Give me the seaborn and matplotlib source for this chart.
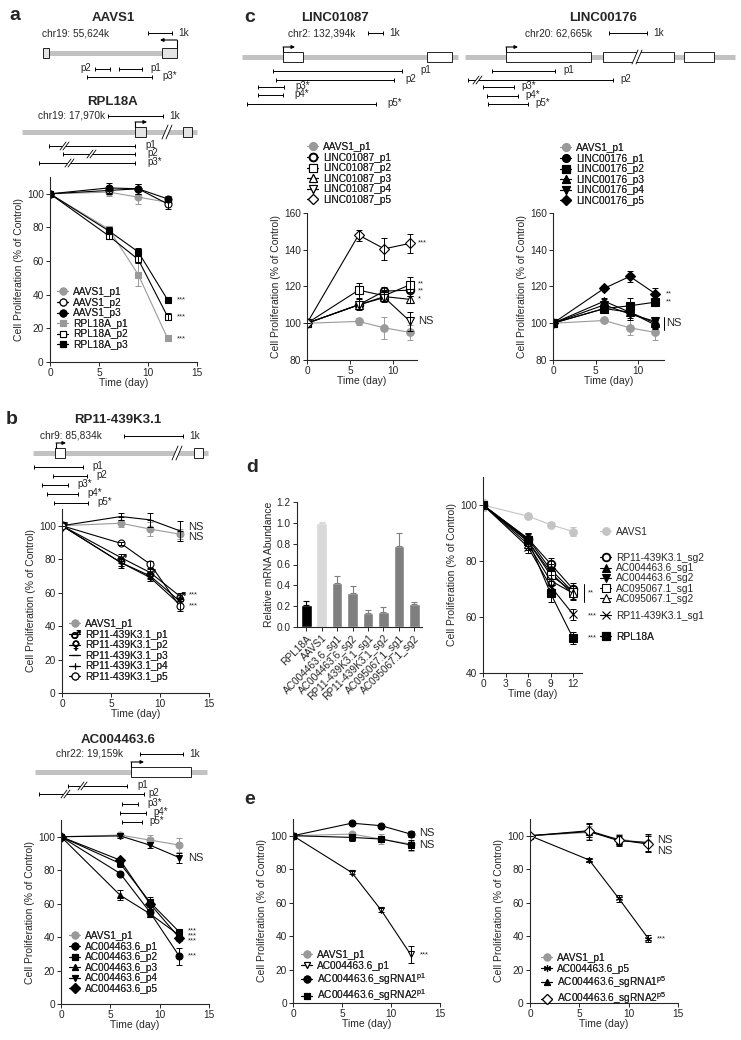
import matplotlib
matplotlib.use("Agg")
import matplotlib.pyplot as plt
from matplotlib.patches import Rectangle, Polygon
from matplotlib.textpath import TextPath
from matplotlib.font_manager import FontProperties
from matplotlib.path import Path
import seaborn as sns
import pandas as pd

# ---------------------------------------------------------
# DATA
# ---------------------------------------------------------
DAYS = [0, 6, 9, 12]

# a: AAVS1 / RPL18A
A_LABELS = ["AAVS1_p1", "AAVS1_p2", "AAVS1_p3", "RPL18A_p1", "RPL18A_p2", "RPL18A_p3"]
A_VALUES = [[100, 101, 98, 95], [100, 102, 103, 94], [100, 103.5, 103, 97],
            [100, 79, 52, 14], [100, 75, 61, 27], [100, 78, 65.5, 37]]
A_ERRORS = [[0, 2, 4, 2], [0, 2, 3, 3], [0, 3, 3, 2], [0, 2, 7, 1], [0, 2, 2, 2], [0, 2, 2, 1]]
A_SIG = [(37, "***"), (27, "***"), (14, "***")]

# b: RP11-439K3.1
B_LABELS = ["AAVS1_p1", "RP11-439K3.1_p1", "RP11-439K3.1_p2", "RP11-439K3.1_p3",
            "RP11-439K3.1_p4", "RP11-439K3.1_p5"]
B_VALUES = [[100, 101.5, 98, 95], [100, 81, 72, 58], [100, 78, 70, 55],
            [100, 105.5, 103.5, 97], [100, 78, 69, 53], [100, 89.5, 77, 52]]
B_ERRORS = [[0, 2, 4, 3], [0, 2, 2, 2], [0, 2, 2, 2], [0, 2, 4, 6], [0, 3, 2, 2], [0, 1, 2, 3]]
B_SIG = [(99, "NS"), (93, "NS"), (58.5, "***"), (52, "***")]

# b (lower): AC004463.6
C6_LABELS = ["AAVS1_p1", "AC004463.6_p1", "AC004463.6_p2", "AC004463.6_p3",
             "AC004463.6_p4", "AC004463.6_p5"]
C6_VALUES = [[100, 101, 98, 95], [100, 78, 55, 28.5], [100, 84, 61, 43],
             [100, 65, 54, 41], [100, 100.5, 95, 87.5], [100, 86, 60, 39.5]]
C6_ERRORS = [[0, 1, 3, 4], [0, 1, 2, 5], [0, 2, 3, 2], [0, 3, 2, 2], [0, 1, 2, 3], [0, 1, 3, 2]]
C6_SIG = [(44, "***"), (41, "***"), (38, "***"), (28.5, "***"), (87.5, "NS")]

# c: LINC01087
L1_LABELS = ["AAVS1_p1", "LINC01087_p1", "LINC01087_p2", "LINC01087_p3",
             "LINC01087_p4", "LINC01087_p5"]
L1_VALUES = [[100, 101, 97.5, 95], [100, 110, 117.5, 118], [100, 118, 115, 121],
             [100, 110, 114.5, 113], [100, 110, 114, 101], [100, 148, 140.5, 143.5]]
L1_ERRORS = [[0, 2, 6, 4], [0, 2, 2, 3], [0, 4, 3, 4], [0, 3, 3, 2], [0, 2, 2, 5], [0, 3, 6, 5]]
L1_SIG = [(143.5, "***"), (121.5, "**"), (117.5, "**"), (113, "*"), (101, "NS")]

# c: LINC00176
L2_LABELS = ["AAVS1_p1", "LINC00176_p1", "LINC00176_p2", "LINC00176_p3",
             "LINC00176_p4", "LINC00176_p5"]
L2_VALUES = [[100, 101.5, 97.5, 95], [100, 108, 106, 99], [100, 108, 109.5, 111.5],
             [100, 112, 106, 100], [100, 110, 105, 101], [100, 119, 125.5, 116]]
L2_ERRORS = [[0, 1, 4, 4], [0, 2, 2, 2], [0, 2, 4, 2], [0, 2, 3, 2], [0, 3, 3, 2], [0, 1, 3, 3]]
L2_SIG = [(116, "**"), (111.5, "**"), (100, "NS")]

# d: relative mRNA abundance
D_BAR_LABELS = ["RPL18A", "AAVS1", "AC004463.6_sg1", "AC004463.6_sg2", "RP11-439K3.1_sg1",
                "RP11-439K3.1_sg2", "AC095067.1_sg1", "AC095067.1_sg2"]
D_BAR_VALUES = [0.21, 1.0, 0.42, 0.33, 0.13, 0.145, 0.78, 0.22]
D_BAR_ERRORS = [0.04, 0.005, 0.07, 0.065, 0.03, 0.045, 0.12, 0.02]

# d: proliferation after knock-down
D_LABELS = ["AAVS1", "RP11-439K3.1_sg2", "AC004463.6_sg1", "AC004463.6_sg2",
            "AC095067.1_sg1", "AC095067.1_sg2", "RP11-439K3.1_sg1", "RPL18A"]
D_VALUES = [[100, 96, 93, 90.5], [100, 88, 79, 70], [100, 88, 77, 69], [100, 87, 76, 68],
            [100, 87, 75, 69], [100, 86, 73, 68.5], [100, 85, 71, 61], [100, 87.5, 68.5, 52.5]]
D_ERRORS = [[2, 1, 1, 1.5], [0, 2, 2, 2], [0, 2, 2, 2], [0, 2, 2, 2],
            [0, 2, 2, 2], [0, 2, 2, 2], [0, 2, 2, 2], [0, 2, 3, 2]]

# e: rescue with alternative sgRNAs
E1_LABELS = ["AAVS1_p1", "AC004463.6_p1", r"AC004463.6_sgRNA1$^{\mathrm{p1}}$",
             r"AC004463.6_sgRNA2$^{\mathrm{p1}}$"]
E1_VALUES = [[100, 101, 98, 95], [100, 78, 55.5, 29], [100, 107.5, 106, 101], [100, 99, 98, 94.5]]
E1_ERRORS = [[0, 1, 3, 4], [0, 1, 1, 5], [0, 1, 1, 2], [0, 2, 2, 3]]
E1_SIG = [(101.5, "NS"), (94.5, "NS"), (29, "***")]

E2_LABELS = ["AAVS1_p1", "AC004463.6_p5", r"AC004463.6_sgRNA1$^{\mathrm{p5}}$",
             r"AC004463.6_sgRNA2$^{\mathrm{p5}}$"]
E2_VALUES = [[100, 102, 98, 95.5], [100, 85.5, 62.5, 38.5], [100, 102.5, 97, 96], [100, 103, 97.5, 95]]
E2_ERRORS = [[0, 4, 3, 5], [0, 1, 2, 2], [0, 5, 3, 5], [0, 4, 3, 5]]
E2_SIG = [(97.5, "NS"), (91, "NS"), (38.5, "***")]

# ---------------------------------------------------------
# STYLE
# ---------------------------------------------------------
sns.set_theme(style="ticks")
plt.rcParams["font.family"] = ["Liberation Sans", "DejaVu Sans"]
plt.rcParams["mathtext.fontset"] = "custom"
plt.rcParams["mathtext.rm"] = "Liberation Sans"
FS = 7.3       # tick / legend text
FL = 7.5       # axis labels
GREY = "#9a9a9a"
LIGHT = "#c4c4c4"
K = "black"
W_ = "white"


def glyph_marker(ch):
    # marker built from a DejaVu glyph, centred on the data point
    p = TextPath((0, 0), ch, size=10, prop=FontProperties(family="DejaVu Sans"))
    v = p.vertices.copy()
    v[:, 0] -= (v[:, 0].min() + v[:, 0].max()) / 2
    v[:, 1] -= (v[:, 1].min() + v[:, 1].max()) / 2
    return Path(v, p.codes)


MALE = glyph_marker("\u2642")
FEMALE = glyph_marker("\u2640")

# (marker, face, line/edge colour)
A_STY = [("o", GREY, GREY), ("o", W_, K), ("o", K, K), ("s", GREY, GREY), ("s", W_, K), ("s", K, K)]
B_STY = [("o", GREY, GREY), (MALE, K, K), (FEMALE, K, K), ("_", K, K), ("+", K, K), ("o", W_, K)]
C6_STY = [("o", GREY, GREY), ("o", K, K), ("s", K, K), ("^", K, K), ("v", K, K), ("D", K, K)]
L1_STY = [("o", GREY, GREY), ("o", W_, K), ("s", W_, K), ("^", W_, K), ("v", W_, K), ("D", W_, K)]
L2_STY = [("o", GREY, GREY), ("o", K, K), ("s", K, K), ("^", K, K), ("v", K, K), ("D", K, K)]
D_STY = [("o", LIGHT, LIGHT), ("o", W_, K), ("^", K, K), ("v", K, K), ("s", W_, K), ("^", W_, K),
         ("x", K, K), ("s", K, K)]
E1_STY = [("o", GREY, GREY), ("v", W_, K), ("o", K, K), ("s", K, K)]
E2_STY = [("o", GREY, GREY), ((6, 2, 0), K, K), ("^", K, K), ("D", W_, K)]

WPX, HPX = 741, 1040
fig = plt.figure(figsize=(WPX / 100, HPX / 100), dpi=100)

# overlay axes in pixel coordinates for the gene schematics and panel letters
ov = fig.add_axes([0, 0, 1, 1])
ov.set_xlim(0, WPX)
ov.set_ylim(HPX, 0)
ov.axis("off")
ov.patch.set_alpha(0)


def place(x0, y0, x1, y1):
    ax = fig.add_axes([x0 / WPX, 1 - y1 / HPX, (x1 - x0) / WPX, (y1 - y0) / HPX])
    ax.patch.set_alpha(0)
    return ax


def style_axes(ax):
    sns.despine(ax=ax)
    for s in ("left", "bottom"):
        ax.spines[s].set_linewidth(0.8)
    ax.tick_params(labelsize=FS, length=3, width=0.7, pad=1.5)


def draw_lines(ax, labels, values, errors, styles, ms=5):
    for lab, v, e, (mk, fc, col) in zip(labels, values, errors, styles):
        df = pd.DataFrame({"day": DAYS, "val": v})
        mew = 1.3 if (fc == W_ and isinstance(mk, str) and mk == "o" and ms > 5.2) else 0.8
        if isinstance(mk, Path):
            mew = 0.3
        sns.lineplot(data=df, x="day", y="val", ax=ax, color=col, marker=mk,
                     markerfacecolor=fc, markeredgecolor=col, markersize=ms + (2 if isinstance(mk, Path) else 0),
                     markeredgewidth=mew, lw=0.8, label=lab, legend=False, errorbar=None)
        ax.errorbar(DAYS, v, yerr=e, fmt="none", ecolor=col, elinewidth=0.7,
                    capsize=2.2, capthick=0.7)


def legend_at(ax, handles, labels, x, y, spacing=0.06):
    leg = ax.legend(handles, labels, loc="upper left", bbox_to_anchor=(x / WPX, 1 - y / HPX),
                    bbox_transform=fig.transFigure, frameon=False, fontsize=FS,
                    borderpad=0, borderaxespad=0, handlelength=1.1, handletextpad=0.5,
                    labelspacing=spacing)
    ax.add_artist(leg)
    return leg


def prolif_panel(rect, xlim, ylim, yticks, labels, values, errors, styles, leg_xy, sig,
                 xticks=(0, 5, 10, 15), sig_x=12.9, ms=5):
    ax = place(*rect)
    draw_lines(ax, labels, values, errors, styles, ms=ms)
    ax.set_xlim(*xlim)
    ax.set_ylim(*ylim)
    ax.set_xticks(list(xticks))
    ax.set_yticks(yticks)
    ax.set_xlabel("Time (day)", fontsize=FL, labelpad=0)
    ax.set_ylabel("Cell Proliferation (% of Control)", fontsize=FL, labelpad=2)
    style_axes(ax)
    h, l = ax.get_legend_handles_labels()
    legend_at(ax, h, l, *leg_xy)
    for yv, txt in sig:
        ax.text(sig_x, yv, txt, fontsize=8 if txt == "NS" else 5.5, va="center", ha="left",
                clip_on=False)
    return ax


# ---------------------------------------------------------
# LINE PANELS
# ---------------------------------------------------------
prolif_panel((50, 177, 197, 362), (0, 15), (0, 110), range(0, 101, 20),
             A_LABELS, A_VALUES, A_ERRORS, A_STY, (57, 287), A_SIG)
prolif_panel((62, 509, 209, 693), (0, 15), (0, 110), range(0, 101, 20),
             B_LABELS, B_VALUES, B_ERRORS, B_STY, (69, 619), B_SIG)
prolif_panel((61, 820, 209, 1004), (0, 15), (0, 110), range(0, 101, 20),
             C6_LABELS, C6_VALUES, C6_ERRORS, C6_STY, (69, 931), C6_SIG)
prolif_panel((307, 213, 417, 360), (0, 12.8), (80, 160), range(80, 161, 20),
             L1_LABELS, L1_VALUES, L1_ERRORS, L1_STY, (307, 142), L1_SIG, xticks=(0, 5, 10), ms=5.5)
ax_l2 = prolif_panel((553, 213, 664, 360), (0, 13), (80, 160), range(80, 161, 20),
                     L2_LABELS, L2_VALUES, L2_ERRORS, L2_STY, (560, 143), L2_SIG,
                     xticks=(0, 5, 10), ms=5.5, sig_x=13.2)
ax_l2.plot([12.95, 12.95], [96.5, 103.5], color=K, lw=0.7, clip_on=False)
prolif_panel((293, 819, 440, 1003), (0, 15), (0, 110), range(0, 101, 20),
             E1_LABELS, E1_VALUES, E1_ERRORS, E1_STY, (301, 950), E1_SIG)
prolif_panel((530, 819, 678, 1003), (0, 15), (0, 110), range(0, 101, 20),
             E2_LABELS, E2_VALUES, E2_ERRORS, E2_STY, (541, 953), E2_SIG)

# d: proliferation with grouped legend on the right
axd = place(483, 477, 582, 673)
draw_lines(axd, D_LABELS, D_VALUES, D_ERRORS, D_STY, ms=5.5)
axd.set_xlim(0, 13.2)
axd.set_ylim(40, 110)
axd.set_xticks([0, 3, 6, 9, 12])
axd.set_yticks([40, 60, 80, 100])
axd.set_xlabel("Time (day)", fontsize=FL, labelpad=0)
axd.set_ylabel("Cell Proliferation (% of Control)", fontsize=FL, labelpad=2)
style_axes(axd)
h, l = axd.get_legend_handles_labels()
legend_at(axd, h[:1], l[:1], 600, 527)
legend_at(axd, h[1:6], l[1:6], 600, 553, spacing=0.02)
legend_at(axd, h[6:7], l[6:7], 600, 611)
legend_at(axd, h[7:], l[7:], 600, 632)
axd.plot([13.5, 13.5], [65.4, 71.8], color=K, lw=0.7, clip_on=False)
axd.text(14.0, 68.5, "**", fontsize=5.5, va="center", clip_on=False)
axd.text(14.0, 60.5, "***", fontsize=5.5, va="center", clip_on=False)
axd.text(14.0, 52.5, "***", fontsize=5.5, va="center", clip_on=False)

# d: bar chart
axb = place(297, 502, 422, 627)
bar_df = pd.DataFrame({"sample": D_BAR_LABELS, "value": D_BAR_VALUES})
bar_cols = ["#000000", "#d9d9d9"] + ["#7f7f7f"] * 6
sns.barplot(data=bar_df, x="sample", y="value", hue="sample", palette=bar_cols,
            legend=False, width=0.68, ax=axb, saturation=1)
for i, (v, e, c) in enumerate(zip(D_BAR_VALUES, D_BAR_ERRORS, bar_cols)):
    axb.errorbar([i], [v], yerr=[[0], [e]], fmt="none", ecolor=c,
                 elinewidth=0.8, capsize=2, capthick=0.8)
axb.set_xlim(-0.6, 7.5)
axb.set_ylim(0, 1.2)
axb.set_yticks([0, 0.2, 0.4, 0.6, 0.8, 1.0, 1.2])
axb.set_yticklabels([f"{v:.1f}" for v in axb.get_yticks()])
axb.set_xlabel("")
axb.set_ylabel("Relative mRNA Abundance", fontsize=FL, labelpad=2)
style_axes(axb)
axb.set_xticks(range(len(D_BAR_LABELS)))
axb.set_xticklabels(D_BAR_LABELS, rotation=45, ha="right", rotation_mode="anchor", fontsize=FS)

# ---------------------------------------------------------
# GENE SCHEMATICS (pixel layout)
# ---------------------------------------------------------
GENES = [
    dict(name="AAVS1", title=(113, 18), chr_text="chr19: 55,624k", chr=(42, 33), scale=(148, 172, 33),
         line=(45, 177, 53), exons=[(43, 49), (162, 177)], fc="#e4e4e4", breaks=[],
         tss=(177, 40, 160),
         primers=[("p2", 95, 110, 69, [], 80), ("p1", 119, 142, 69, [], 150),
                  ("p3*", 87, 152, 77, [], 162)]),
    dict(name="RPL18A", title=(113, 102), chr_text="chr19: 17,970k", chr=(38, 116), scale=(108, 163, 116),
         line=(22, 197, 132), exons=[(135, 146), (183, 192)], fc="#e4e4e4", breaks=[165],
         tss=(135, 122, 147),
         primers=[("p1", 49, 135, 146, [63], 145), ("p2", 63, 135, 154, [90], 147),
                  ("p3*", 39, 135, 163, [68], 147)]),
    dict(name="RP11-439K3.1", title=(118, 420), chr_text="chr9: 85,834k", chr=(40, 436), scale=(124, 183, 436),
         line=(33, 208, 453), exons=[(55, 65), (194, 203)], fc="white", breaks=[175],
         tss=(56, 443, 66),
         primers=[("p1", 34, 83, 467, [], 92), ("p2", 53, 87, 476, [], 96), ("p3*", 42, 68, 485, [], 77),
                  ("p4*", 47, 78, 494, [], 87), ("p5*", 54, 88, 503, [], 97)]),
    dict(name="AC004463.6", title=(118, 740), chr_text="chr22: 19,159k", chr=(56, 754), scale=(140, 183, 754),
         line=(35, 207, 772), exons=[(131, 191)], fc="white", breaks=[],
         tss=(131, 762, 144),
         primers=[("p1", 68, 127, 786, [81], 137), ("p2", 39, 144, 794, [64], 148),
                  ("p3*", 122, 138, 804, [], 147), ("p4*", 120, 146, 813, [], 153),
                  ("p5*", 122, 142, 822, [], 149)]),
    dict(name="LINC01087", title=(335, 18), chr_text="chr2: 132,394k", chr=(288, 33), scale=(368, 383, 33),
         line=(242, 458, 57), exons=[(283, 303), (427, 452)], fc="white", breaks=[],
         tss=(283, 47, 295),
         primers=[("p1", 273, 402, 71, [], 420), ("p2", 276, 394, 80, [], 405),
                  ("p3*", 258, 284, 87, [], 295), ("p4*", 258, 283, 95, [], 294),
                  ("p5*", 247, 376, 104, [], 387)]),
    dict(name="LINC00176", title=(603, 18), chr_text="chr20: 62,665k", chr=(525, 33), scale=(609, 647, 33),
         line=(465, 735, 57), exons=[(506, 591), (603, 674), (684, 714)], fc="white", breaks=[635],
         tss=(506, 47, 518),
         primers=[("p1", 492, 555, 71, [], 563), ("p2", 468, 613, 80, [476], 620),
                  ("p3*", 483, 514, 87, [], 521), ("p4*", 487, 518, 96, [], 525),
                  ("p5*", 488, 528, 104, [], 535)]),
]


def slash_break(x, y, h, gap=4):
    ov.add_patch(Polygon([(x - 3, y + h), (x - 3 + gap, y + h), (x + 3 + gap, y - h), (x + 3, y - h)],
                         closed=True, fc="white", ec="none", zorder=4))
    for dx in (0, gap):
        ov.plot([x - 3 + dx, x + 3 + dx], [y + h, y - h], color=K, lw=0.6, zorder=5)


for g in GENES:
    ov.text(g["title"][0], g["title"][1], g["name"], ha="center", va="center",
            fontsize=9.5, fontweight="bold")
    ov.text(g["chr"][0], g["chr"][1], g["chr_text"], ha="left", va="center", fontsize=7.3)
    sx0, sx1, sy = g["scale"]
    ov.plot([sx0, sx1], [sy, sy], color=K, lw=0.7, marker="|", ms=3.5, mew=0.7)
    ov.text(sx1 + 6, sy, "1k", ha="left", va="center", fontsize=7.3)
    lx0, lx1, ly = g["line"]
    ov.plot([lx0, lx1], [ly, ly], color="#c2c2c2", lw=3.6, solid_capstyle="butt", zorder=1)
    for ex0, ex1 in g["exons"]:
        ov.add_patch(Rectangle((ex0, ly - 5), ex1 - ex0, 10, fc=g["fc"], ec=K, lw=0.6, zorder=2))
    for bx in g["breaks"]:
        slash_break(bx, ly, 7)
    tx, ty, tend = g["tss"]
    ov.plot([tx, tx], [ly - 5, ty], color=K, lw=0.8, zorder=3)
    ov.annotate("", xy=(tend, ty), xytext=(tx, ty),
                arrowprops=dict(arrowstyle="-|>", lw=0.8, color=K, mutation_scale=5,
                                shrinkA=0, shrinkB=0))
    for lab, p0, p1, py, pbreaks, labx in g["primers"]:
        ov.plot([p0, p1], [py, py], color=K, lw=0.7, marker="|", ms=3, mew=0.7)
        for bx in pbreaks:
            slash_break(bx, py, 4, gap=3)
        ov.text(labx, py - 1, lab, ha="left", va="center", fontsize=7)

# panel letters
for letter, (x, y) in zip("abcde", [(15, 16), (12, 420), (250, 17), (252, 468), (250, 800)]):
    ov.text(x, y, letter, ha="center", va="center", fontsize=14, fontweight="bold")

fig.savefig("out.png", dpi=100)
